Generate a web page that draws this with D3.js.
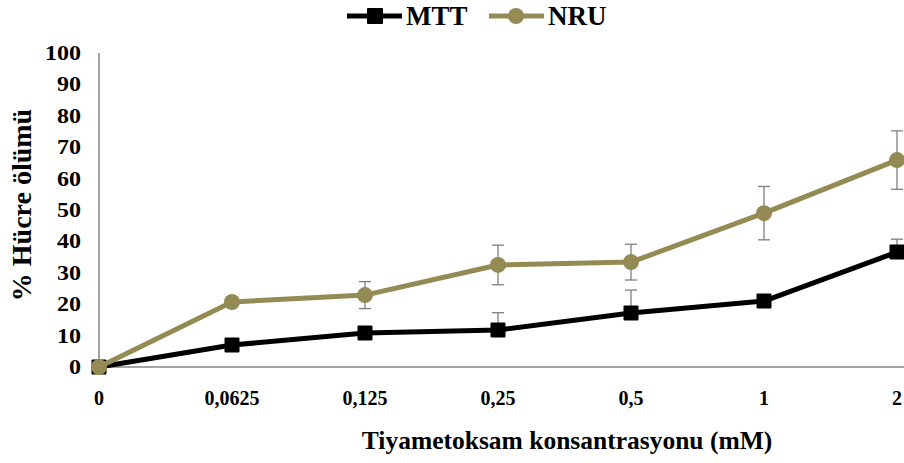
<!DOCTYPE html>
<html>
<head>
<meta charset="utf-8">
<script src="https://cdn.jsdelivr.net/npm/d3@7"></script>
<style>
  body { margin: 0; background: #fff; }
  text { font-family: "Liberation Serif", "Times New Roman", serif; font-weight: bold; fill: #000; }
</style>
</head>
<body>
<svg id="chart" width="904" height="463"></svg>
<script>
const categories = ['0', '0,0625', '0,125', '0,25', '0,5', '1', '2'];
const mttValues = [0, 7.0, 10.8, 11.8, 17.2, 21.0, 36.6];
const mttErrors = [0, 0, 0, 5.5, 7.3, 0, 4.1];
const nruValues = [0, 20.7, 22.9, 32.5, 33.4, 49.0, 65.9];
const nruErrors = [0, 0, 4.3, 6.3, 5.7, 8.5, 9.3];
const yTicks = [0, 10, 20, 30, 40, 50, 60, 70, 80, 90, 100];

const series = [
  { key: 'MTT', values: mttValues, errors: mttErrors, color: '#000000', marker: 'square', plusOnly: true },
  { key: 'NRU', values: nruValues, errors: nruErrors, color: '#948A54', marker: 'circle', plusOnly: false },
];

const svg = d3.select('#chart');

const xScale = d3.scalePoint().domain(categories).range([99, 897]).padding(0);
const yScale = d3.scaleLinear().domain([0, 100]).range([367, 53]);

// axes
svg.append('line')
  .attr('x1', 99).attr('x2', 904)
  .attr('y1', yScale(0)).attr('y2', yScale(0))
  .attr('stroke', '#868686').attr('stroke-width', 1.5);
svg.append('line')
  .attr('x1', 99).attr('x2', 99)
  .attr('y1', yScale(0)).attr('y2', yScale(100))
  .attr('stroke', '#868686').attr('stroke-width', 1.5);

// y tick labels are a bit wider in the original
svg.append('g').selectAll('text')
  .data(yTicks)
  .join('text')
  .attr('transform', d => `translate(81 ${yScale(d)}) scale(1.2 1)`)
  .attr('dy', '0.35em')
  .attr('text-anchor', 'end')
  .attr('font-size', 20)
  .text(d => d);

svg.append('g').selectAll('text')
  .data(categories)
  .join('text')
  .attr('x', d => xScale(d))
  .attr('y', 398)
  .attr('dy', '0.35em')
  .attr('text-anchor', 'middle')
  .attr('font-size', 20)
  .text(d => d);

// axis titles
svg.append('text')
  .attr('transform', 'translate(31 205) rotate(-90)')
  .attr('text-anchor', 'middle')
  .attr('font-size', 28)
  .text('% Hücre ölümü');

svg.append('text')
  .attr('x', 567)
  .attr('y', 440)
  .attr('dy', '0.35em')
  .attr('text-anchor', 'middle')
  .attr('font-size', 25.5)
  .text('Tiyametoksam konsantrasyonu (mM)');

// error bars
series.forEach(s => {
  const g = svg.append('g').attr('class', 'err-' + s.key);
  s.values.forEach((v, i) => {
    const e = s.errors[i];
    if (!e) return;
    const x = xScale(categories[i]);
    const top = yScale(v + e);
    const bottom = s.plusOnly ? yScale(v) : yScale(v - e);
    g.append('line').attr('x1', x).attr('x2', x).attr('y1', top).attr('y2', bottom)
      .attr('stroke', '#7f7f7f').attr('stroke-width', 1.3);
    g.append('line').attr('x1', x - 6).attr('x2', x + 6).attr('y1', top).attr('y2', top)
      .attr('stroke', '#7f7f7f').attr('stroke-width', 1.3);
    if (!s.plusOnly) {
      g.append('line').attr('x1', x - 6).attr('x2', x + 6).attr('y1', bottom).attr('y2', bottom)
        .attr('stroke', '#7f7f7f').attr('stroke-width', 1.3);
    }
  });
});

const lineGen = d3.line()
  .x((d, i) => xScale(categories[i]))
  .y(d => yScale(d));

// lines and markers
series.forEach(s => {
  svg.append('path')
    .attr('d', lineGen(s.values))
    .attr('fill', 'none')
    .attr('stroke', s.color)
    .attr('stroke-width', 5)
    .attr('stroke-linejoin', 'round');
  const g = svg.append('g');
  if (s.marker === 'square') {
    g.selectAll('rect').data(s.values).join('rect')
      .attr('x', (d, i) => xScale(categories[i]) - 7.5)
      .attr('y', d => yScale(d) - 7.5)
      .attr('width', 15).attr('height', 15)
      .attr('rx', 1)
      .attr('fill', s.color);
  } else {
    g.selectAll('circle').data(s.values).join('circle')
      .attr('cx', (d, i) => xScale(categories[i]))
      .attr('cy', d => yScale(d))
      .attr('r', 8)
      .attr('fill', s.color);
  }
});

// legend
const legend = svg.append('g');
const legendItems = [
  { s: series[0], x: 347, tx: 406 },
  { s: series[1], x: 489, tx: 548 },
];
legendItems.forEach(({ s, x, tx }) => {
  legend.append('line').attr('x1', x).attr('x2', x + 55).attr('y1', 16).attr('y2', 16)
    .attr('stroke', s.color).attr('stroke-width', 5);
  if (s.marker === 'square') {
    legend.append('rect').attr('x', x + 28 - 8).attr('y', 8).attr('width', 16).attr('height', 16)
      .attr('rx', 1).attr('fill', s.color);
  } else {
    legend.append('circle').attr('cx', x + 27).attr('cy', 16).attr('r', 8).attr('fill', s.color);
  }
  legend.append('text').attr('x', tx).attr('y', 25)
    .attr('font-size', 27).text(s.key);
});
</script>
</body>
</html>
